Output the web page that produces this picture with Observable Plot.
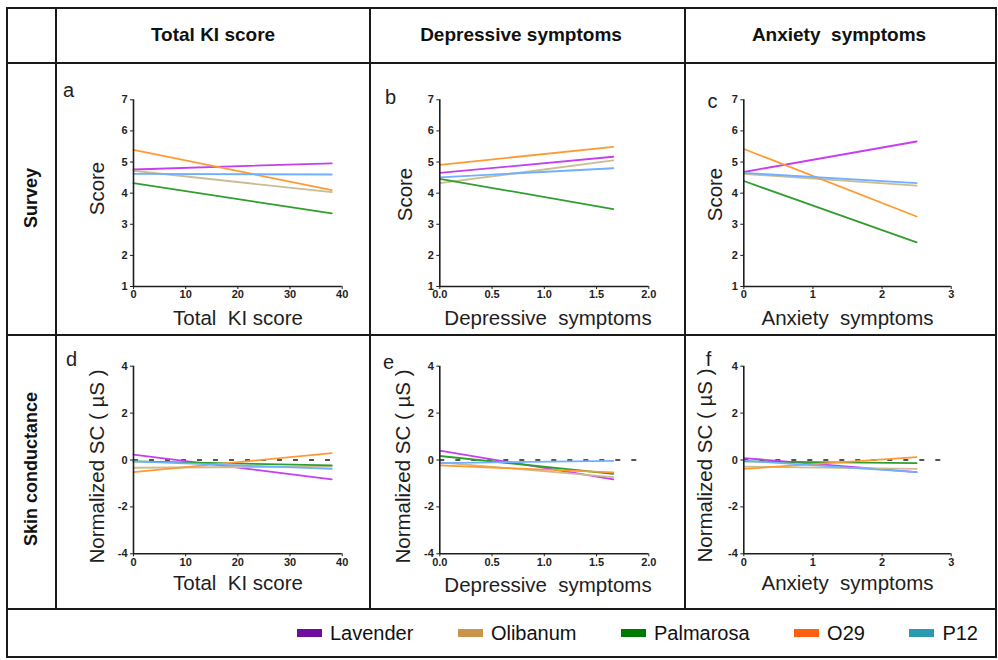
<!DOCTYPE html>
<html>
<head>
<meta charset="utf-8">
<script src="https://cdn.jsdelivr.net/npm/d3@7"></script>
<script src="https://cdn.jsdelivr.net/npm/@observablehq/plot@0.6"></script>
<style>
  body { margin: 0; background: #fff; font-family: "Liberation Sans", Arial, sans-serif; }
  #fig { position: relative; width: 998px; height: 660px; background: #fff; overflow: hidden; }
  .hl { position: absolute; height: 2px; background: #1a1a1a; }
  .vl { position: absolute; width: 2px; background: #1a1a1a; }
  .head { position: absolute; font-weight: bold; font-size: 19px; transform: translate(-50%, -50%); white-space: pre; color: #111; }
  .rowlab { position: absolute; font-weight: bold; font-size: 18px; transform: translate(-50%, -50%) rotate(-90deg); white-space: nowrap; color: #111; }
  .panel { position: absolute; }
  .panel svg { overflow: visible; }
  #legend { position: absolute; top: 610px; height: 46px; right: 20px; display: flex; align-items: center; font-size: 20px; color: #111; }
  .item { display: flex; align-items: center; margin-left: 44.5px; }
  .sw { width: 25px; height: 7.5px; margin-right: 8px; }
</style>
</head>
<body>
<div id="fig"></div>
<script>
// ---------- data ----------
const oils = ["Lavender", "Olibanum", "Palmarosa", "O29", "P12"];
const headers = ["Total KI score", "Depressive symptoms", "Anxiety  symptoms"];
const predictorLabels = ["Total  KI score", "Depressive  symptoms", "Anxiety  symptoms"];
const rowLabels = ["Survey", "Skin conductance"];
const panelLetters = ["a", "b", "c", "d", "e", "f"];
const yLabels = ["Score", "Normalized SC ( µS )"];
const predictorMax = [38, 1.66, 2.5];      // end of fitted line on each predictor
const xDomainMax = [40, 2, 3];
const zeroLineEnd = [38, 1.9, 2.87];
const kiTicks = [0, 10, 20, 30, 40];
const depTicks = [0, 0.5, 1, 1.5, 2];
const anxTicks = [0, 1, 2, 3];
const scoreTicks = [1, 2, 3, 4, 5, 6, 7];
const scTicks = [-4, -2, 0, 2, 4];

// fitted values at x = 0 and at x = predictorMax, per oil (order of `oils`)
const aStart = [4.76, 4.72, 4.32, 5.39, 4.62];
const aEnd   = [4.96, 4.03, 3.35, 4.10, 4.60];
const bStart = [4.65, 4.32, 4.46, 4.91, 4.51];
const bEnd   = [5.17, 5.05, 3.49, 5.49, 4.80];
const cStart = [4.68, 4.62, 4.39, 5.42, 4.65];
const cEnd   = [5.66, 4.24, 2.42, 3.25, 4.32];
const dStart = [0.23, -0.33, -0.06, -0.52, -0.06];
const dEnd   = [-0.83, -0.28, -0.23, 0.29, -0.38];
const eStart = [0.40, -0.10, 0.17, -0.23, -0.13];
const eEnd   = [-0.83, -0.73, -0.59, -0.53, -0.04];
const fStart = [0.08, -0.28, -0.06, -0.38, -0.03];
const fEnd   = [-0.52, -0.38, -0.13, 0.12, -0.52];

// ---------- styles ----------
const lineColors = ["#c73df0", "#cbbc92", "#2f9e2f", "#ff9a33", "#70b0ff"];
const legendColors = ["#700aa0", "#c8954a", "#007a00", "#ff6010", "#2a9ab0"];
const ink = "#1e1e1e";

// ---------- layout ----------
const fig = document.getElementById("fig");
function line(cls, l, t, w, h) {
  const d = document.createElement("div");
  d.className = cls;
  d.style.left = l + "px"; d.style.top = t + "px";
  if (w != null) d.style.width = w + "px";
  if (h != null) d.style.height = h + "px";
  fig.appendChild(d);
}
const L = 7, R = 996, rowsY = [8, 62.5, 335, 609, 657], colsX = [56, 370, 685];
rowsY.forEach(y => line("hl", L - 1, y - 1, R - L + 2, null));
[L, R].forEach(x => line("vl", x - 1, rowsY[0] - 1, null, rowsY[4] - rowsY[0] + 2));
colsX.forEach(x => line("vl", x - 1, rowsY[0] - 1, null, rowsY[3] - rowsY[0] + 1));

const headCenters = [213, 521, 839];
headers.forEach((h, i) => {
  const d = document.createElement("div");
  d.className = "head"; d.textContent = h;
  d.style.left = headCenters[i] + "px"; d.style.top = "35px";
  fig.appendChild(d);
});
const rowCenters = [198, 469];
rowLabels.forEach((r, i) => {
  const d = document.createElement("div");
  d.className = "rowlab"; d.textContent = r;
  d.style.left = "31px"; d.style.top = rowCenters[i] + "px";
  fig.appendChild(d);
});

// pixel geometry of each panel
const cellX = [[57, 369], [371, 684], [686, 995]];
const cellY = [[64, 334], [336, 608]];
const axisX = [[133, 341.7], [439.3, 648.3], [743.3, 950.7]];
const axisY = [[99.3, 286], [365.7, 553.3]];
const letterPos = [[68, 90], [390, 97], [712, 101], [71, 359], [388, 362], [708, 359]];
const yLabPos = [[97, 188], [405, 194], [715, 194], [97, 466], [403, 466], [705, 465]];
const xLabPos = [[237.5, 318], [547.5, 318], [847, 318], [237.5, 583], [547.5, 585], [847, 583]];

const starts = [aStart, bStart, cStart, dStart, eStart, fStart];
const ends = [aEnd, bEnd, cEnd, dEnd, eEnd, fEnd];
const xTicksList = [kiTicks, depTicks, anxTicks];
const xFormats = [d => String(d), d3.format(".1f"), d => String(d)];

for (let p = 0; p < 6; p++) {
  const row = Math.floor(p / 3), col = p % 3;
  const [cx0, cx1] = cellX[col], [cy0, cy1] = cellY[row];
  const [ax0, ax1] = axisX[col], [ayTop, ayBot] = axisY[row];
  const width = cx1 - cx0, height = cy1 - cy0;
  const yTicks = row === 0 ? scoreTicks : scTicks;
  const yDom = row === 0 ? [1, 7] : [-4, 4];
  const xMax = xDomainMax[col];
  const data = [];
  oils.forEach((o, i) => {
    data.push({oil: o, x: 0, y: starts[p][i]});
    data.push({oil: o, x: predictorMax[col], y: ends[p][i]});
  });
  const midX = (ax0 + ax1) / 2, midY = (ayTop + ayBot) / 2;
  const marks = [];
  if (row === 1) {
    marks.push(Plot.ruleY([0], {x1: 0, x2: zeroLineEnd[col], stroke: ink, strokeWidth: 1.6, strokeDasharray: "5,11"}));
  }
  marks.push(
    Plot.line(data, {x: "x", y: "y", z: "oil", stroke: "oil", strokeWidth: 1.8}),
    Plot.ruleX([0], {y1: yDom[0], y2: yDom[1], stroke: ink, strokeWidth: 1.6}),
    Plot.ruleY([yDom[0]], {x1: 0, x2: xMax, stroke: ink, strokeWidth: 1.6}),
    Plot.axisY({ticks: yTicks, tickSize: 3, tickPadding: 3, tickFormat: d => String(d), label: null, fontSize: 11, fontWeight: "bold", stroke: ink}),
    Plot.axisX({ticks: xTicksList[col], tickSize: 3, tickPadding: 1, tickFormat: xFormats[col], label: null, fontSize: 11, fontWeight: "bold", stroke: ink}),
    Plot.text([panelLetters[p]], {text: d => d, frameAnchor: "top-left", textAnchor: "middle", lineAnchor: "middle", dx: letterPos[p][0] - ax0, dy: letterPos[p][1] - ayTop, fontSize: 20, fill: ink}),
    Plot.text([yLabels[row]], {text: d => d, frameAnchor: "left", textAnchor: "middle", lineAnchor: "middle", rotate: -90, dx: yLabPos[p][0] - ax0, dy: yLabPos[p][1] - midY, fontSize: 20.5, fill: ink}),
    Plot.text([predictorLabels[col]], {text: d => d, frameAnchor: "bottom", textAnchor: "middle", lineAnchor: "middle", dx: xLabPos[p][0] - midX, dy: xLabPos[p][1] - ayBot, fontSize: 20.5, fill: ink})
  );
  const chart = Plot.plot({
    width, height,
    marginLeft: ax0 - cx0, marginRight: cx1 - ax1,
    marginTop: ayTop - cy0, marginBottom: cy1 - ayBot,
    x: {domain: [0, xMax]},
    y: {domain: yDom},
    color: {domain: oils, range: lineColors},
    style: {fontFamily: "Liberation Sans, Arial, sans-serif", color: ink, background: "transparent"},
    marks
  });
  const wrap = document.createElement("div");
  wrap.className = "panel";
  wrap.style.left = cx0 + "px"; wrap.style.top = cy0 + "px";
  wrap.appendChild(chart);
  fig.appendChild(wrap);
}

// legend
const legend = document.createElement("div");
legend.id = "legend";
oils.forEach((o, i) => {
  const it = document.createElement("div");
  it.className = "item";
  const sw = document.createElement("span");
  sw.className = "sw"; sw.style.background = legendColors[i];
  const tx = document.createElement("span");
  tx.textContent = o;
  it.appendChild(sw); it.appendChild(tx);
  legend.appendChild(it);
});
fig.appendChild(legend);
</script>
</body>
</html>
